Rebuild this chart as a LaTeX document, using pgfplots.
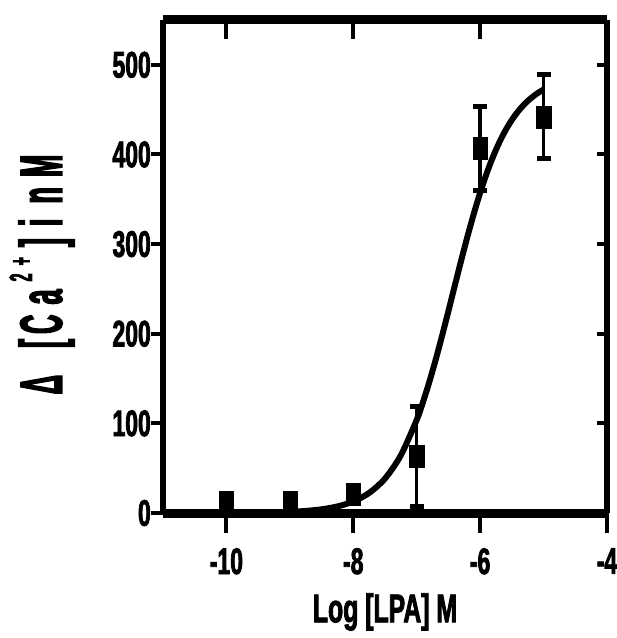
\documentclass[border=0pt]{standalone}
\usepackage{pgfplots}
\pgfplotsset{compat=1.18}
\usepackage{fontspec}
\setmainfont{Liberation Sans}[FakeStretch=0.62, BoldFeatures={FakeBold=2}]
\newfontfamily\ylf{Liberation Sans}[FakeStretch=0.45, BoldFeatures={FakeBold=2}]

\pgfplotsset{base/.style={scale only axis, width=444pt, height=493pt,
  xmin=-11, xmax=-4, ymin=0, ymax=550, at={(0pt,0pt)}, anchor=south west,
  /pgf/number format/assume math mode=true}}

\begin{document}
\begin{tikzpicture}
\useasboundingbox (-163pt,-125pt) rectangle (454pt,513pt);
\begin{axis}[base,
  separate axis lines,
  x axis line style={line width=9pt},
  y axis line style={line width=5.5pt},
  xtick={-10,-8,-6,-4}, ytick={0,100,...,500},
  tick pos=left, tick align=outside, major tick length=20pt,
  xtick style={black, line width=4pt}, ytick style={draw=none},
  tick label style={font=\fontsize{37}{40}\selectfont\bfseries, inner sep=0pt},
  xticklabel style={yshift=-15pt},
  yticklabel style={xshift=8pt},
  xlabel={Log [LPA] M},
  xlabel style={font=\fontsize{40}{44}\selectfont\bfseries, at={(axis description cs:0.5,-0.2008)}, anchor=center},
  ylabel={\ylf\bfseries\fontsize{60}{64}\selectfont Δ\hspace{27pt}[\hspace{5pt}C\hspace{10pt}a\hspace{8pt}\raisebox{30pt}{\fontsize{32}{34}\selectfont 2\hspace{8pt}+}\hspace{10pt}]\hspace{12pt}i\hspace{15pt}n\hspace{10pt}M},
  ylabel style={at={(axis description cs:-0.2725,0.4838)}, anchor=center},
]
\addplot[line width=6pt, smooth] coordinates {
(-10,0.13) (-9.5,0.42) (-9,1.32) (-8.75,2.33) (-8.5,4.13) (-8.25,7.31) (-8,12.84)
(-7.75,22.38) (-7.5,38.43) (-7.25,64.41) (-7,103.9) (-6.9,124.0) (-6.8,146.5)
(-6.7,171.2) (-6.6,197.7) (-6.5,225.3) (-6.4,253.5) (-6.3,281.4) (-6.2,308.4)
(-6.1,333.8) (-6.0,357.3) (-5.9,378.3) (-5.8,396.9) (-5.7,413.1) (-5.6,426.9)
(-5.5,438.5) (-5.4,448.2) (-5.3,456.2) (-5.2,462.7) (-5.1,468.1) (-5.0,472.4)};
\addplot[only marks, mark=square*, mark size=11pt, mark options={xscale=0.65}]
  coordinates {(-10,12) (-9,12) (-8,21)};
\addplot[only marks, mark=square*, mark size=11pt, mark options={xscale=0.65},
  error bars/.cd, y dir=both, y explicit,
  error bar style={line width=3.5pt},
  error mark options={rotate=90, line width=5pt, mark size=7pt}]
  coordinates {(-7,63) +- (0,56) (-6,407) +- (0,47) (-5,442) +- (0,47)};
\end{axis}
% top ticks, inside
\begin{axis}[base, axis line style={draw=none},
  xtick={-10,-8,-6}, ytick=\empty, xticklabels={},
  tick pos=right, tick align=inside, major tick length=19pt,
  tick style={black, line width=4pt}]
\end{axis}
% left ticks, outside
\begin{axis}[base, axis line style={draw=none},
  xtick=\empty, ytick={0,100,...,500}, yticklabels={},
  tick pos=left, tick align=outside, major tick length=12pt,
  tick style={black, line width=4pt}]
\end{axis}
% right ticks, inside
\begin{axis}[base, axis line style={draw=none},
  xtick=\empty, ytick={100,200,...,500}, yticklabels={},
  tick pos=right, tick align=inside, major tick length=10pt,
  tick style={black, line width=4pt}]
\end{axis}
\end{tikzpicture}
\end{document}
